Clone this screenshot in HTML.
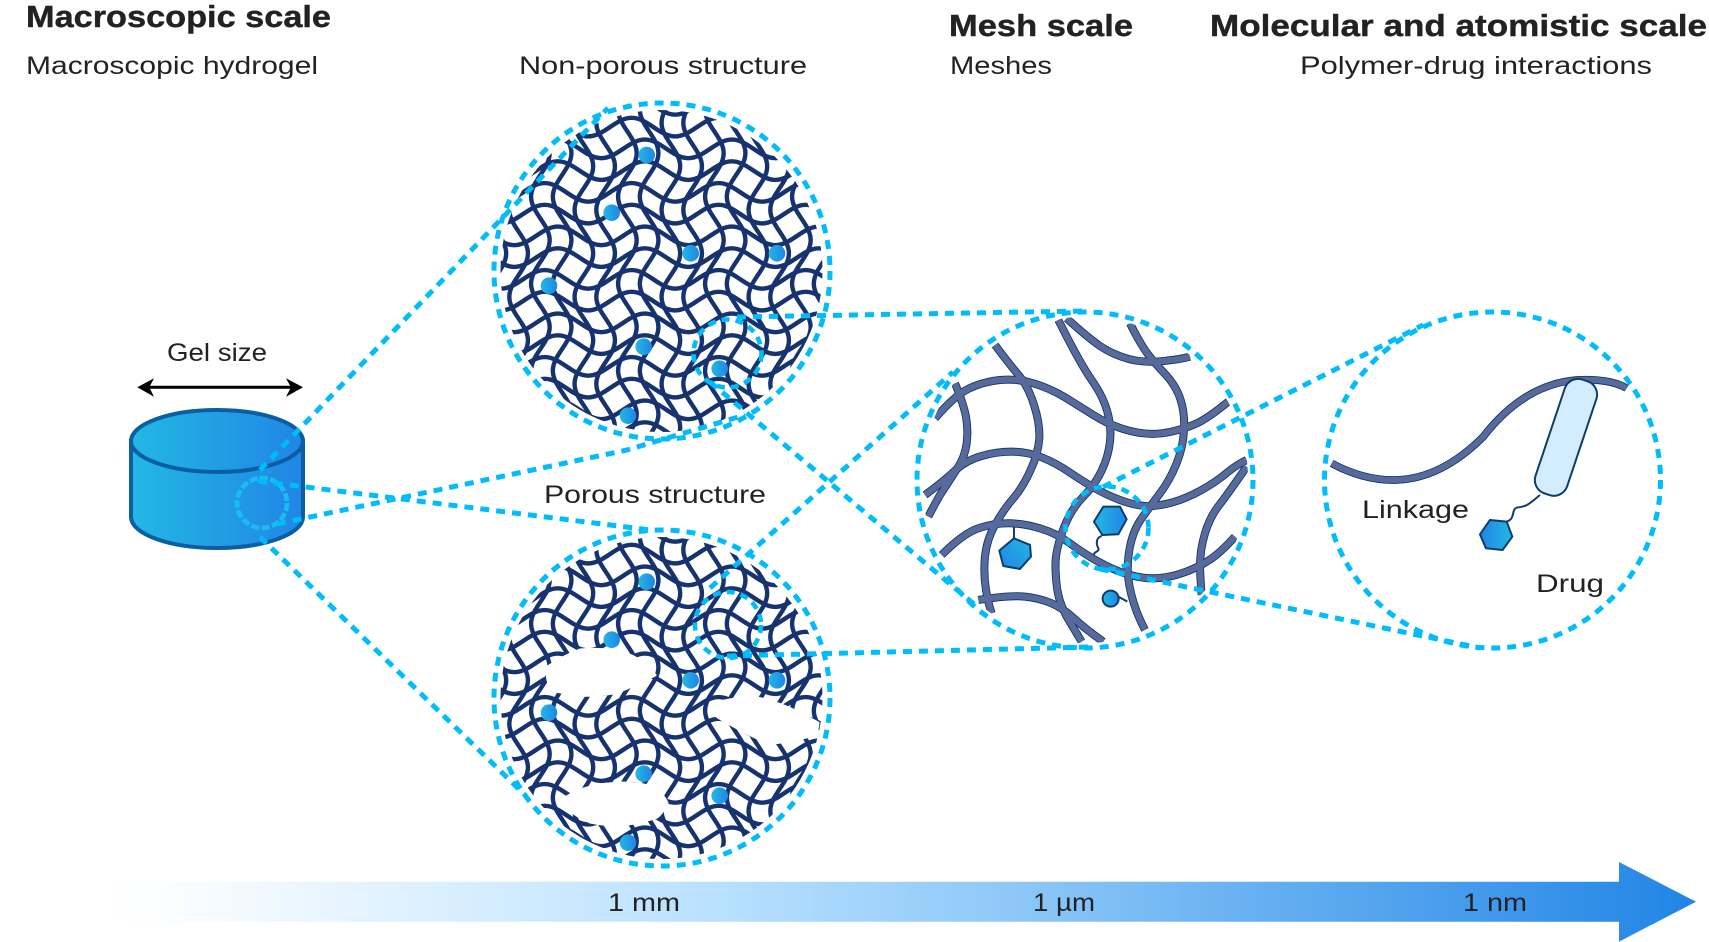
<!DOCTYPE html>
<html lang="en">
<head>
<meta charset="utf-8">
<title>Hydrogel scales</title>
<style>
html,body{margin:0;padding:0;background:#fff;width:1709px;height:942px;overflow:hidden}
svg{display:block}
text{font-family:"Liberation Sans",sans-serif;fill:#222}
.t{font-size:31px;font-weight:700;stroke:#222;stroke-width:.4px}
.s{font-size:25px}
.d{fill:none;stroke:#00bcfb;stroke-width:5;stroke-dasharray:9 7}
.st{fill:none;stroke-linecap:butt}
</style>
</head>
<body>
<svg width="1709" height="942" viewBox="0 0 1709 942" xmlns="http://www.w3.org/2000/svg">
<defs>
<linearGradient id="g1" x1="0" x2="1" y1="0" y2="0"><stop offset="0" stop-color="#22b8e4"/><stop offset="1" stop-color="#2185e5"/></linearGradient>
<linearGradient id="g2" x1="1" x2="0" y1="0" y2="0"><stop offset="0" stop-color="#22b8e4"/><stop offset="1" stop-color="#2185e5"/></linearGradient>
<linearGradient id="g3" x1="0" x2="1" y1="1" y2="0"><stop offset="0" stop-color="#2185e5"/><stop offset="1" stop-color="#22b8e4"/></linearGradient>
<linearGradient id="cyl" gradientUnits="userSpaceOnUse" x1="131" x2="303" y1="0" y2="0"><stop offset="0" stop-color="#22b8e4"/><stop offset="1" stop-color="#2185e5"/></linearGradient>
<linearGradient id="bar" gradientUnits="userSpaceOnUse" x1="100" x2="1696" y1="0" y2="0">
<stop offset="0" stop-color="#ffffff"/><stop offset=".05" stop-color="#fafdff"/><stop offset=".39" stop-color="#b8e0ff"/><stop offset=".57" stop-color="#8ec8f8"/><stop offset="1" stop-color="#2185e5"/></linearGradient>
<g id="tile" fill="none" stroke="#16326f" stroke-width="4.4">
<path d="M-115.33,-20.175c15.84,0 27.66,18.6 43.5,18.6s27.66,-18.6 43.5,-18.6s27.66,18.6 43.5,18.6s27.66,-18.6 43.5,-18.6s27.66,18.6 43.5,18.6s27.66,-18.6 43.5,-18.6"/>
<path d="M-102.17,1.575c15.84,0 27.66,18.6 43.5,18.6s27.66,-18.6 43.5,-18.6s27.66,18.6 43.5,18.6s27.66,-18.6 43.5,-18.6s27.66,18.6 43.5,18.6s27.66,-18.6 43.5,-18.6"/>
<path d="M-102.17,23.325c15.84,0 27.66,18.6 43.5,18.6s27.66,-18.6 43.5,-18.6s27.66,18.6 43.5,18.6s27.66,-18.6 43.5,-18.6s27.66,18.6 43.5,18.6s27.66,-18.6 43.5,-18.6"/>
<path d="M-115.33,45.075c15.84,0 27.66,18.6 43.5,18.6s27.66,-18.6 43.5,-18.6s27.66,18.6 43.5,18.6s27.66,-18.6 43.5,-18.6s27.66,18.6 43.5,18.6s27.66,-18.6 43.5,-18.6"/>
<path d="M-115.33,66.825c15.84,0 27.66,18.6 43.5,18.6s27.66,-18.6 43.5,-18.6s27.66,18.6 43.5,18.6s27.66,-18.6 43.5,-18.6s27.66,18.6 43.5,18.6s27.66,-18.6 43.5,-18.6"/>
<path d="M-102.17,88.575c15.84,0 27.66,18.6 43.5,18.6s27.66,-18.6 43.5,-18.6s27.66,18.6 43.5,18.6s27.66,-18.6 43.5,-18.6s27.66,18.6 43.5,18.6s27.66,-18.6 43.5,-18.6"/>
<path d="M-20.175,-115.33c0,15.84 18.6,27.66 18.6,43.5s-18.6,27.66 -18.6,43.5s18.6,27.66 18.6,43.5s-18.6,27.66 -18.6,43.5s18.6,27.66 18.6,43.5s-18.6,27.66 -18.6,43.5"/>
<path d="M1.575,-102.17c0,15.84 18.6,27.66 18.6,43.5s-18.6,27.66 -18.6,43.5s18.6,27.66 18.6,43.5s-18.6,27.66 -18.6,43.5s18.6,27.66 18.6,43.5s-18.6,27.66 -18.6,43.5"/>
<path d="M23.325,-102.17c0,15.84 18.6,27.66 18.6,43.5s-18.6,27.66 -18.6,43.5s18.6,27.66 18.6,43.5s-18.6,27.66 -18.6,43.5s18.6,27.66 18.6,43.5s-18.6,27.66 -18.6,43.5"/>
<path d="M45.075,-115.33c0,15.84 18.6,27.66 18.6,43.5s-18.6,27.66 -18.6,43.5s18.6,27.66 18.6,43.5s-18.6,27.66 -18.6,43.5s18.6,27.66 18.6,43.5s-18.6,27.66 -18.6,43.5"/>
<path d="M66.825,-115.33c0,15.84 18.6,27.66 18.6,43.5s-18.6,27.66 -18.6,43.5s18.6,27.66 18.6,43.5s-18.6,27.66 -18.6,43.5s18.6,27.66 18.6,43.5s-18.6,27.66 -18.6,43.5"/>
<path d="M88.575,-102.17c0,15.84 18.6,27.66 18.6,43.5s-18.6,27.66 -18.6,43.5s18.6,27.66 18.6,43.5s-18.6,27.66 -18.6,43.5s18.6,27.66 18.6,43.5s-18.6,27.66 -18.6,43.5"/>
</g>
<pattern id="mesh" patternUnits="userSpaceOnUse" x="660" y="225" width="87" height="87"><use href="#tile"/></pattern>
<pattern id="mesh2" patternUnits="userSpaceOnUse" x="660" y="652" width="87" height="87"><use href="#tile"/></pattern>
<clipPath id="mc2"><circle cx="1085" cy="480" r="163"/></clipPath>
</defs>

<!-- headings -->
<text class="t" x="26" y="27" textLength="305" lengthAdjust="spacingAndGlyphs">Macroscopic scale</text>
<text class="s" x="26" y="74" textLength="292" lengthAdjust="spacingAndGlyphs">Macroscopic hydrogel</text>
<text class="s" x="519" y="74" textLength="288" lengthAdjust="spacingAndGlyphs">Non-porous structure</text>
<text class="t" x="949" y="36" textLength="184" lengthAdjust="spacingAndGlyphs">Mesh scale</text>
<text class="s" x="950" y="74" textLength="102" lengthAdjust="spacingAndGlyphs">Meshes</text>
<text class="t" x="1210" y="36" textLength="497" lengthAdjust="spacingAndGlyphs">Molecular and atomistic scale</text>
<text class="s" x="1300" y="74" textLength="352" lengthAdjust="spacingAndGlyphs">Polymer-drug interactions</text>
<text class="s" x="544" y="503" textLength="222" lengthAdjust="spacingAndGlyphs">Porous structure</text>
<text class="s" x="167" y="361" textLength="100" lengthAdjust="spacingAndGlyphs">Gel size</text>

<!-- gel arrow -->
<line x1="145" y1="387.3" x2="295" y2="387.3" stroke="#000" stroke-width="3"/>
<path d="M137.3,387.3L154,378.3L149.3,387.3L154,396.7Z" fill="#000"/>
<path d="M303,387.3L286,378.3L291,387.3L286,396.7Z" fill="#000"/>

<!-- cylinder -->
<path d="M131,441V517C131,534 169,548 217,548S303,534 303,517V441Z" fill="url(#cyl)" stroke="#0a5fa3" stroke-width="4"/>
<ellipse cx="217" cy="441" rx="86" ry="31" fill="url(#cyl)" stroke="#0a5fa3" stroke-width="4"/>

<!-- upper mesh -->
<circle cx="661.5" cy="271" r="161" fill="url(#mesh)"/>
<g>
<circle cx="646.7" cy="155" r="8.3" fill="url(#g1)"/>
<circle cx="611.7" cy="212.7" r="8.3" fill="url(#g1)"/>
<circle cx="690.7" cy="253.3" r="8.3" fill="url(#g1)"/>
<circle cx="777" cy="253.3" r="8.3" fill="url(#g1)"/>
<circle cx="549" cy="285.7" r="8.3" fill="url(#g1)"/>
<circle cx="643.7" cy="346.7" r="8.3" fill="url(#g1)"/>
<circle cx="719.7" cy="368.7" r="8.3" fill="url(#g1)"/>
<circle cx="628" cy="415.7" r="8.3" fill="url(#g1)"/>
</g>

<!-- lower mesh -->
<circle cx="661.5" cy="698" r="161" fill="url(#mesh2)"/>
<g fill="#fff" stroke="#fff" stroke-width="3" stroke-linejoin="round">
<path d="M548,667Q560,658 580,650Q600,648 620,652Q635,656 643,663L655,675Q645,680 637,683Q625,690 613,693Q595,696 580,695Q565,694 553,690Q545,680 548,667Z"/>
<path d="M713,713Q714,706 720,702Q740,697 757,698Q780,703 797,712L818,723Q818,730 813,735Q795,741 773,743Q760,740 747,733Q735,727 723,720Q717,717 713,713Z"/>
<path d="M563,800Q570,794 580,790Q600,784 620,783Q638,783 653,787Q663,794 667,803Q664,811 657,817Q640,823 620,825Q605,825 590,822Q578,817 570,810Q565,805 563,800Z"/>
</g>
<g>
<circle cx="646.7" cy="581.7" r="8.3" fill="url(#g1)"/>
<circle cx="611.7" cy="639.7" r="8.3" fill="url(#g1)"/>
<circle cx="690.7" cy="680.3" r="8.3" fill="url(#g1)"/>
<circle cx="777" cy="680.3" r="8.3" fill="url(#g1)"/>
<circle cx="549" cy="712.7" r="8.3" fill="url(#g1)"/>
<circle cx="643.7" cy="773.7" r="8.3" fill="url(#g1)"/>
<circle cx="719.7" cy="795.7" r="8.3" fill="url(#g1)"/>
<circle cx="628" cy="842.7" r="8.3" fill="url(#g1)"/>
</g>

<!-- mesh scale -->
<g clip-path="url(#mc2)">
<g transform="translate(900,300) scale(.3333)">
<g class="st" stroke="#12305f" stroke-width="24">
<path id="a" d="M475,60Q540,190 575,240Q610,290 622,335Q635,380 630,425Q625,470 605,512Q585,555 550,590Q515,625 492,682Q470,740 467,780Q465,820 472,870Q480,920 512,970Q530,1000 545,1025"/>
<path id="b" d="M500,55Q560,110 600,138Q640,165 690,178Q740,190 800,182Q840,178 870,170"/>
<path id="c" d="M690,70Q720,130 742,160Q765,190 798,225Q830,260 842,300Q855,340 852,390Q850,440 830,490Q810,540 780,580Q750,620 725,655Q700,690 690,740Q680,790 685,835Q690,880 710,935Q722,965 735,990"/>
<path id="d" d="M105,355Q165,285 208,265Q250,245 300,240Q350,235 400,250Q450,265 495,292Q540,320 580,345Q620,370 655,382Q690,395 730,400Q770,405 815,395Q860,385 895,368Q930,350 985,305"/>
<path id="e" d="M165,250Q190,310 198,350Q205,390 200,430Q195,470 172,505Q150,540 120,585Q100,620 85,650"/>
<path id="f" d="M285,135Q330,195 358,228Q385,260 402,315Q420,370 418,415Q415,460 392,510Q370,560 340,595Q310,630 285,675Q260,720 255,770Q250,820 258,870Q265,910 275,940"/>
<path id="g" d="M75,585Q130,545 165,512Q200,480 245,468Q290,455 335,455Q380,455 425,472Q470,490 510,518Q550,545 585,565Q620,585 660,600Q700,615 735,618Q770,620 815,608Q860,595 905,570Q950,545 985,515Q1010,495 1040,480"/>
<path id="h" d="M1040,500Q985,580 958,615Q930,650 915,700Q900,750 900,800Q902,850 905,885"/>
<path id="i" d="M125,765Q190,700 235,685Q280,670 325,670Q370,670 420,685Q470,700 510,730Q550,760 595,785Q640,810 680,822Q720,835 760,835Q800,835 845,820Q890,805 925,782Q960,760 1005,710"/>
<path id="j" d="M235,900Q330,885 375,890Q420,895 455,910Q490,925 525,958Q560,990 610,1025"/>
</g>
<g class="st" stroke="#566a9b" stroke-width="19">
<use href="#a"/><use href="#b"/><use href="#c"/><use href="#d"/><use href="#e"/>
<use href="#f"/><use href="#g"/><use href="#h"/><use href="#i"/><use href="#j"/>
</g>
<path d="M605,708C585,715 590,735 595,745S580,755 582,765" fill="none" stroke="#0f3c6b" stroke-width="6"/>
<path d="M342,680V715" fill="none" stroke="#0f3c6b" stroke-width="6"/>
<path d="M655,890L682,905" fill="none" stroke="#0f3c6b" stroke-width="6"/>
<path d="M610,620L660,620L680,658L655,703L607,705L582,665Z" fill="url(#g1)" stroke="#0f3c6b" stroke-width="6" stroke-linejoin="round"/>
<path d="M342,715L390,735L393,770L360,807L310,798L298,752Z" fill="url(#g3)" stroke="#0f3c6b" stroke-width="6" stroke-linejoin="round"/>
<circle cx="632" cy="896" r="24" fill="url(#g1)" stroke="#0f3c6b" stroke-width="6"/>
</g>
</g>

<!-- molecular scale -->
<g transform="translate(1310,300) scale(.3333)">
<path d="M65,490C130,525 190,540 250,540C350,540 440,490 520,410C590,320 680,250 800,240C860,236 920,245 950,265" fill="none" stroke="#12305f" stroke-width="23"/>
<path d="M65,490C130,525 190,540 250,540C350,540 440,490 520,410C590,320 680,250 800,240C860,236 920,245 950,265" fill="none" stroke="#566a9b" stroke-width="18"/>
<rect x="718" y="232" width="100" height="360" rx="42" ry="42" transform="rotate(18.5 768 412)" fill="#d3edfe" stroke="#0f3c6b" stroke-width="6"/>
<path d="M690,585C660,610 650,620 625,622C600,625 620,655 590,665" fill="none" stroke="#0f3c6b" stroke-width="6"/>
<path d="M540,660L590,665L607,710L578,750L528,745L510,703Z" fill="url(#g2)" stroke="#0f3c6b" stroke-width="6" stroke-linejoin="round"/>
</g>
<text class="s" x="1362" y="518" textLength="107" lengthAdjust="spacingAndGlyphs">Linkage</text>
<text class="s" x="1536" y="592" textLength="68" lengthAdjust="spacingAndGlyphs">Drug</text>

<!-- dashed circles -->
<circle class="d" cx="662" cy="271" r="168"/>
<circle class="d" cx="662" cy="698" r="168"/>
<circle class="d" cx="1085" cy="480" r="168"/>
<circle class="d" cx="1492.5" cy="480" r="168"/>
<circle class="d" cx="727.5" cy="353.5" r="34" style="stroke-width:4.6;stroke-dasharray:8 6"/>
<circle class="d" cx="728" cy="625" r="33" style="stroke-width:4.6;stroke-dasharray:8 6"/>
<circle class="d" cx="1107" cy="528" r="41.5" style="stroke-width:4.6;stroke-dasharray:8 6"/>
<circle class="d" cx="262" cy="503" r="25" style="stroke-width:4.6;stroke-dasharray:8 2.5;stroke:#19bdf4"/>

<!-- dashed connectors -->
<path class="d" d="M260,470L608,108"/>
<path class="d" d="M260,537L525,795"/>
<path class="d" d="M258,481L650,530"/>
<path class="d" d="M277,524L627,450L745,415"/>
<path class="d" d="M737,317L1085,311"/>
<path class="d" d="M710,382L975,605"/>
<path class="d" d="M710,588L953,372"/>
<path class="d" d="M727,656L1090,647"/>
<path class="d" d="M1103,487L1423,325"/>
<path class="d" d="M1100,569L1480,648"/>

<!-- scale arrow -->
<path d="M100,881.7H1619V862L1696,901.7L1619,941.7V921.7H100Z" fill="url(#bar)"/>
<text class="s" x="608" y="911" textLength="72" lengthAdjust="spacingAndGlyphs">1 mm</text>
<text class="s" x="1033" y="911" textLength="62" lengthAdjust="spacingAndGlyphs">1 µm</text>
<text class="s" x="1463" y="911" textLength="64" lengthAdjust="spacingAndGlyphs">1 nm</text>
</svg>
</body>
</html>
